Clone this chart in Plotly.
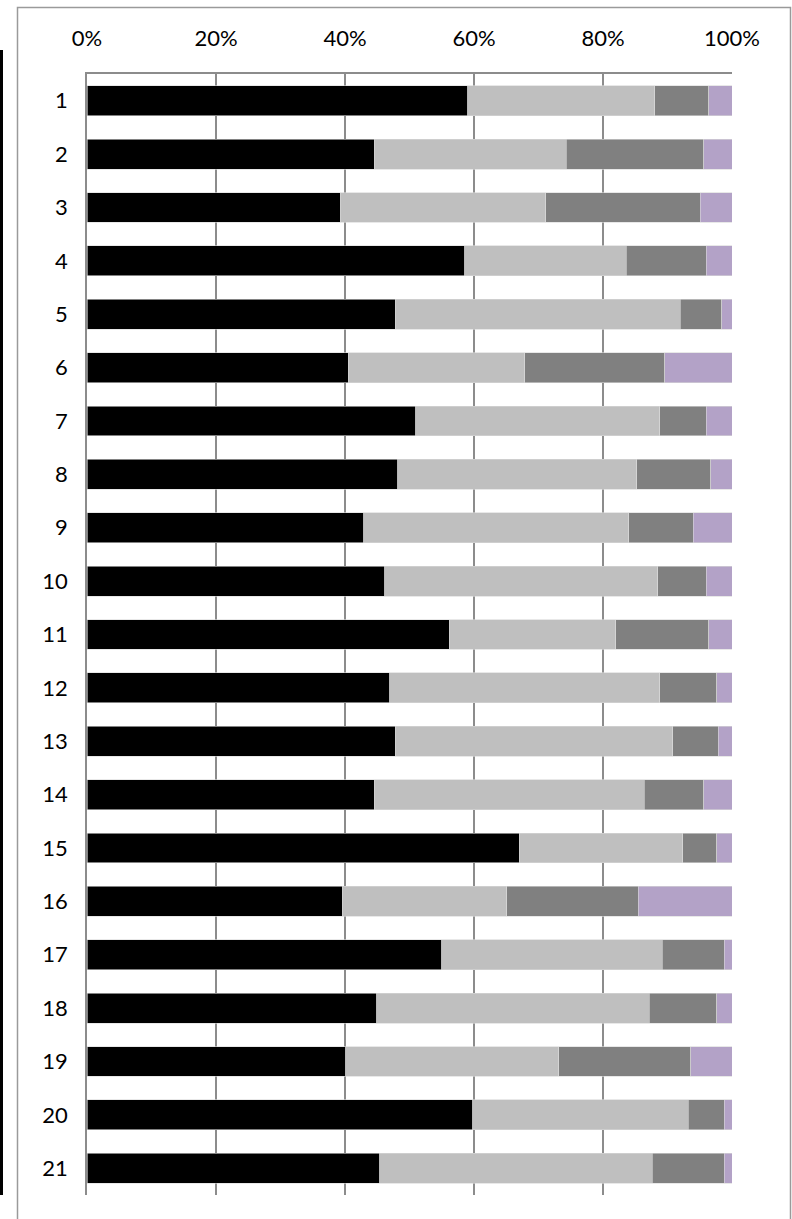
import plotly.graph_objects as go

categories = [str(i) for i in range(1, 22)]

# segment shares (%)
series_black = [59.0, 44.5, 39.3, 58.6, 47.8, 40.5, 51.0, 48.2, 42.9, 46.2, 56.2,
                46.9, 47.8, 44.5, 67.0, 39.6, 55.0, 44.9, 40.1, 59.8, 45.4]
series_light = [29.0, 29.8, 31.8, 25.0, 44.2, 27.4, 37.8, 37.0, 41.1, 42.3, 25.8,
                41.9, 43.0, 41.9, 25.4, 25.5, 34.2, 42.3, 33.0, 33.4, 42.2]
series_dark = [8.4, 21.3, 24.0, 12.4, 6.4, 21.7, 7.2, 11.5, 10.0, 7.5, 14.4,
               8.8, 7.1, 9.2, 5.2, 20.4, 9.6, 10.4, 20.5, 5.6, 11.2]
series_lav = [3.6, 4.4, 4.9, 4.0, 1.6, 10.4, 4.0, 3.3, 6.0, 4.0, 3.6,
              2.4, 2.1, 4.4, 2.4, 14.5, 1.2, 2.4, 6.4, 1.2, 1.2]

tick_vals = [0, 20, 40, 60, 80, 100]
tick_text = ["0%", "20%", "40%", "60%", "80%", "100%"]

colors = ["#000000", "#BFBFBF", "#808080", "#B3A2C7"]
all_series = [series_black, series_light, series_dark, series_lav]

fig = go.Figure()
for vals, col in zip(all_series, colors):
    fig.add_trace(go.Bar(
        y=categories, x=vals, orientation="h",
        marker=dict(color=col, line=dict(width=0.6, color="#d9d9d9")),
        width=0.56, showlegend=False, hoverinfo="skip",
    ))

W, H = 792, 1219
L, R, T, B = 87, 732, 74, 1195
fig.update_layout(
    width=W, height=H,
    margin=dict(l=L, r=W - R, t=T, b=H - B),
    barmode="stack",
    plot_bgcolor="white", paper_bgcolor="white",
    font=dict(family="Lato", size=22, color="#000000"),
    xaxis=dict(
        side="top", range=[0, 100], tickvals=tick_vals, ticktext=tick_text,
        showgrid=True, gridcolor="#8c8c8c", gridwidth=1.5,
        showline=True, linecolor="#8c8c8c", linewidth=1.5,
        zeroline=False, ticks="", ticklabelstandoff=17,
    ),
    yaxis=dict(
        categoryorder="array", categoryarray=categories, autorange="reversed",
        showgrid=False, showline=True, linecolor="#8c8c8c", linewidth=1.5,
        ticks="", ticklabelstandoff=13,
    ),
)

pw, ph = R - L, B - T
def px(x):
    return (x - L) / pw
def py(y):
    return (B - y) / ph

fig.add_shape(type="rect", xref="paper", yref="paper",
              x0=px(17.5), x1=px(790.5), y0=py(1240), y1=py(7.5),
              line=dict(color="#9a9a9a", width=1.5), fillcolor="rgba(0,0,0,0)", layer="above")
fig.add_shape(type="line", xref="paper", yref="paper",
              x0=px(1.5), x1=px(1.5), y0=py(1195), y1=py(50),
              line=dict(color="#000000", width=3))

fig.write_html("out.html", config={"displayModeBar": False},
               post_script="document.body.style.margin='0';document.body.style.overflow='hidden';")
